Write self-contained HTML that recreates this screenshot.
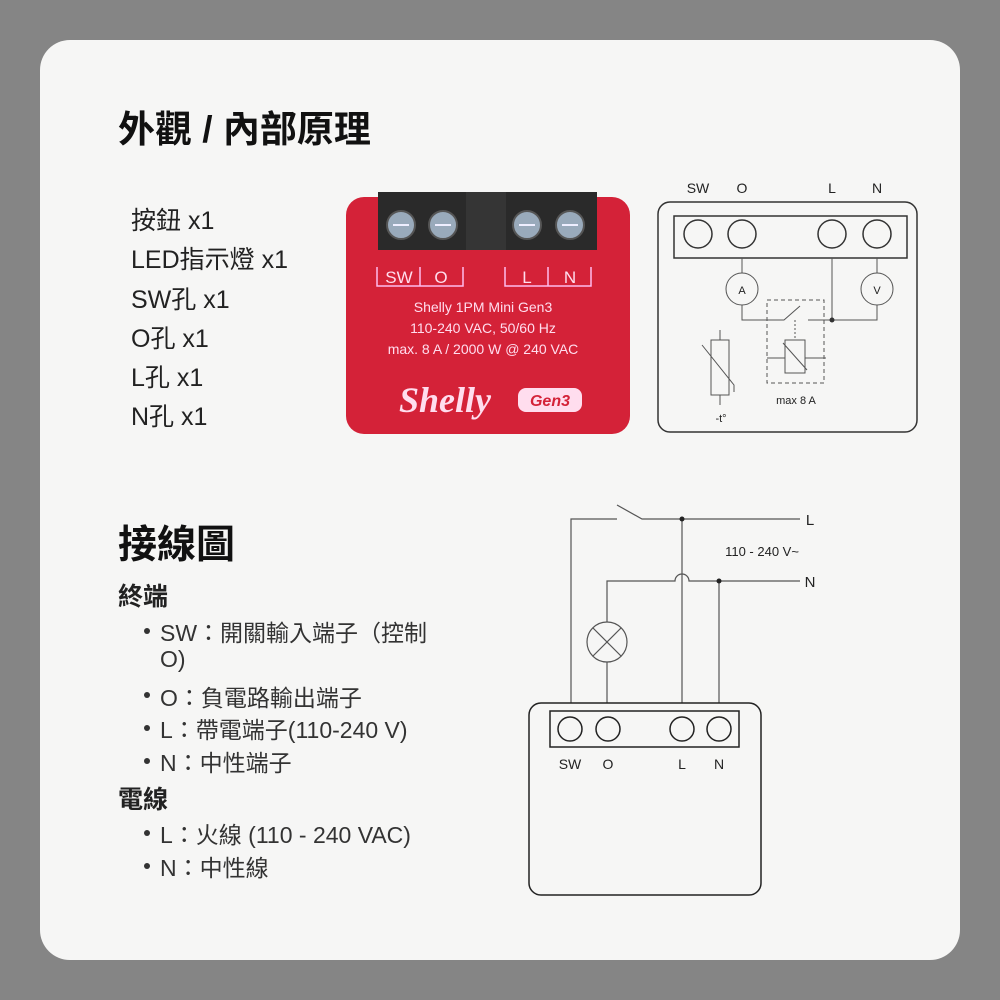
<!DOCTYPE html>
<html><head><meta charset="utf-8"><style>
body{margin:0;width:1000px;height:1000px;background:#858585;position:relative;overflow:hidden;font-family:"Liberation Sans","Noto Sans CJK TC",sans-serif;}
.card{position:absolute;left:40px;top:40px;width:920px;height:920px;background:#f6f6f5;border-radius:30px;}
.t{position:absolute;white-space:nowrap;color:#222;}
.h1{font-size:37px;font-weight:bold;color:#111;}
.h2{font-size:25px;font-weight:bold;color:#222;}
.li{font-size:25px;color:#222;}
.b{font-size:23px;color:#333;}
.dot{position:absolute;width:6px;height:6px;border-radius:50%;background:#333;}
svg{position:absolute;left:0;top:0;}
</style></head><body>
<div class="card"></div>
<div class="t h1" style="left:118px;top:99px">外觀 / 內部原理</div>
<div class="t li" style="left:131px;top:201px">按鈕 x1</div>
<div class="t li" style="left:131px;top:240px">LED指示燈 x1</div>
<div class="t li" style="left:131px;top:280px">SW孔 x1</div>
<div class="t li" style="left:131px;top:319px">O孔 x1</div>
<div class="t li" style="left:131px;top:358px">L孔 x1</div>
<div class="t li" style="left:131px;top:397px">N孔 x1</div>
<div class="t h1" style="left:118px;top:514px;font-size:39px">接線圖</div>
<div class="t h2" style="left:118px;top:577px">終端</div>
<div class="dot" style="left:144px;top:628px"></div><div class="t b" style="left:160px;top:614px">SW：開關輸入端子（控制</div>
<div class="t b" style="left:160px;top:646px">O)</div>
<div class="dot" style="left:144px;top:692px"></div><div class="t b" style="left:160px;top:679px">O：負電路輸出端子</div>
<div class="dot" style="left:144px;top:725px"></div><div class="t b" style="left:160px;top:711px">L：帶電端子(110-240 V)</div>
<div class="dot" style="left:144px;top:758px"></div><div class="t b" style="left:160px;top:744px">N：中性端子</div>
<div class="t h2" style="left:118px;top:780px">電線</div>
<div class="dot" style="left:144px;top:830px"></div><div class="t b" style="left:160px;top:816px">L：火線 (110 - 240 VAC)</div>
<div class="dot" style="left:144px;top:863px"></div><div class="t b" style="left:160px;top:849px">N：中性線</div>

<svg width="1000" height="1000" viewBox="0 0 1000 1000" font-family="Liberation Sans, sans-serif">
<rect x="346" y="197" width="284" height="237" rx="18" fill="#d42238"/>
<rect x="378" y="192" width="219" height="58" fill="#2a2a2a"/>
<rect x="466" y="192" width="40" height="58" fill="#353535"/>
<g fill="#9ab" stroke="#555" stroke-width="2">
<circle cx="401" cy="225" r="14"/><circle cx="443" cy="225" r="14"/><circle cx="527" cy="225" r="14"/><circle cx="570" cy="225" r="14"/></g>
<g stroke="#eef" stroke-width="2"><line x1="393" y1="225" x2="409" y2="225"/><line x1="435" y1="225" x2="451" y2="225"/><line x1="519" y1="225" x2="535" y2="225"/><line x1="562" y1="225" x2="578" y2="225"/></g>
<g stroke="#fbe" stroke-width="1.5" fill="none">
<path d="M377 267 V286 H463 V267 M420 267 V286"/><path d="M505 267 V286 H591 V267 M548 267 V286"/></g>
<g fill="#fde" font-size="17" text-anchor="middle">
<text x="399" y="283">SW</text><text x="441" y="283">O</text><text x="527" y="283">L</text><text x="570" y="283">N</text></g>
<g fill="#fde" font-size="14" text-anchor="middle">
<text x="483" y="312">Shelly 1PM Mini Gen3</text><text x="483" y="333">110-240 VAC, 50/60 Hz</text><text x="483" y="354">max. 8 A / 2000 W @ 240 VAC</text></g>
<text x="445" y="412" fill="#fde" font-size="36" font-weight="bold" font-style="italic" text-anchor="middle" font-family="Liberation Serif, serif">Shelly</text>
<rect x="518" y="388" width="64" height="24" rx="8" fill="#fde"/>
<text x="550" y="406" fill="#d42238" font-size="16" font-weight="bold" font-style="italic" text-anchor="middle">Gen3</text>

<g fill="none" stroke="#333" stroke-width="1.5">
<rect x="658" y="202" width="259" height="230" rx="12"/>
<rect x="674" y="216" width="233" height="42"/>
<circle cx="698" cy="234" r="14"/><circle cx="742" cy="234" r="14"/><circle cx="832" cy="234" r="14"/><circle cx="877" cy="234" r="14"/>
</g>
<g fill="none" stroke="#555" stroke-width="1">
<line x1="742" y1="258" x2="742" y2="273"/><circle cx="742" cy="289" r="16"/>
<line x1="877" y1="258" x2="877" y2="273"/><circle cx="877" cy="289" r="16"/>
<path d="M742 305 V320 H784 L800 306"/><path d="M808 320 H877 V305"/>
<line x1="832" y1="258" x2="832" y2="320"/>
<rect x="767" y="300" width="57" height="83" stroke-dasharray="4 3"/>
<line x1="795" y1="320" x2="795" y2="340" stroke-dasharray="2 2"/>
<rect x="785" y="340" width="20" height="33"/><line x1="783" y1="343" x2="807" y2="370"/>
<line x1="767" y1="358" x2="785" y2="358"/><line x1="805" y1="358" x2="826" y2="358"/>
<line x1="720" y1="330" x2="720" y2="340"/><rect x="711" y="340" width="18" height="55"/><line x1="720" y1="395" x2="720" y2="405"/>
<path d="M702 345 L734 385 V392"/>
</g>
<circle cx="832" cy="320" r="2.5" fill="#333"/>
<g fill="#222" font-size="14" text-anchor="middle">
<text x="698" y="193">SW</text><text x="742" y="193">O</text><text x="832" y="193">L</text><text x="877" y="193">N</text>
<text x="742" y="294" font-size="11">A</text><text x="877" y="294" font-size="11">V</text>
<text x="796" y="404" font-size="11">max 8 A</text><text x="721" y="422" font-size="11">-t°</text></g>

<g fill="none" stroke="#555" stroke-width="1.2">
<path d="M571 703 V519 H617 M617 505 L642 519 H800"/>
<line x1="682" y1="519" x2="682" y2="703"/>
<path d="M607 622 V581 H675 A7 7 0 0 1 689 581 H800"/>
<line x1="719" y1="581" x2="719" y2="703"/>
<circle cx="607" cy="642" r="20"/>
<line x1="593" y1="628" x2="621" y2="656"/><line x1="621" y1="628" x2="593" y2="656"/>
<line x1="607" y1="662" x2="607" y2="703"/>
</g>
<g fill="none" stroke="#222" stroke-width="1.5">
<rect x="529" y="703" width="232" height="192" rx="12"/>
<rect x="550" y="711" width="189" height="36"/>
<circle cx="570" cy="729" r="12"/><circle cx="608" cy="729" r="12"/><circle cx="682" cy="729" r="12"/><circle cx="719" cy="729" r="12"/>
</g>
<circle cx="682" cy="519" r="2.5" fill="#222"/><circle cx="719" cy="581" r="2.5" fill="#222"/>
<g fill="#222" font-size="14" text-anchor="middle">
<text x="570" y="769">SW</text><text x="608" y="769">O</text><text x="682" y="769">L</text><text x="719" y="769">N</text>
<text x="810" y="525" font-size="15">L</text><text x="810" y="587" font-size="15">N</text>
<text x="762" y="556" font-size="13">110 - 240 V~</text></g>
</svg>
</body></html>
